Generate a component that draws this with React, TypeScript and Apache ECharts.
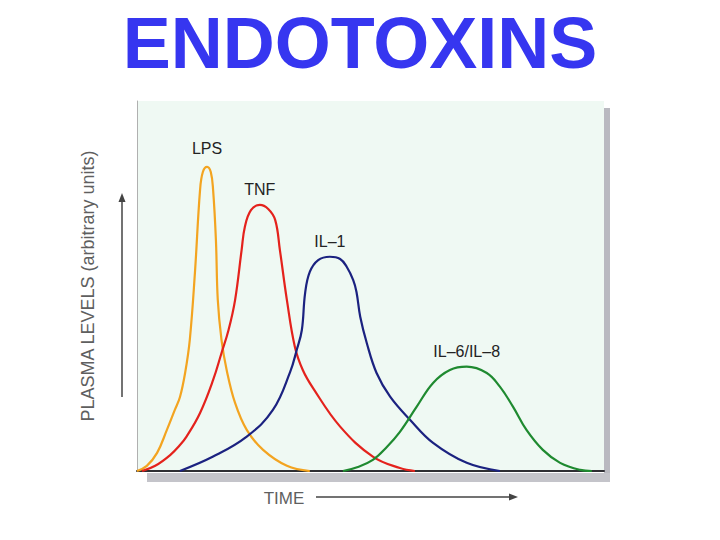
import React, { useEffect, useRef } from "react";
import * as echarts from "echarts";

const titleText = "ENDOTOXINS";
const yAxisTitle = "PLASMA LEVELS (arbitrary units)";
const xAxisTitle = "TIME";

const seriesNames = ["LPS", "TNF", "IL–1", "IL–6/IL–8"];
const seriesColors = ["#f3a420", "#e4221c", "#1b2280", "#1f8a30"];

const lps: number[][] = [
  [0, 0], [2.1, 1.4], [4.3, 4.9], [6.4, 11.1], [8.1, 16.5], [9.2, 20.0], [10.3, 26.5],
  [11.3, 35.4], [12.4, 53.5], [13.5, 75.9], [14.1, 80.8], [15.0, 82.2], [15.8, 80.8],
  [16.3, 75.9], [16.9, 62.4], [17.3, 46.2], [18.1, 35.4], [19.2, 27.3], [21.0, 18.4],
  [23.5, 11.1], [27.0, 5.7], [32.1, 1.4], [37.0, 0],
];
const tnf: number[][] = [
  [1.1, 0], [3.9, 1.4], [7.1, 4.3], [9.2, 7.0], [10.6, 9.3], [13.5, 15.7], [16.3, 24.6],
  [18.1, 31.9], [19.6, 38.1], [21.0, 46.2], [22.4, 59.7], [23.1, 66.0], [24.4, 70.5],
  [26.3, 71.9], [28.1, 70.8], [29.6, 67.8], [30.6, 59.7], [32.1, 46.2], [33.8, 33.6],
  [35.5, 27.3], [37.7, 22.4], [43.5, 12.0], [50.5, 3.9], [56.3, 0.8], [59.5, 0],
];
const il1: number[][] = [
  [9.2, 0], [16.3, 3.9], [23.5, 9.3], [29.1, 16.5], [32.8, 26.8], [34.2, 32.7], [35.3, 38.1],
  [36.0, 48.1], [37.0, 53.8], [38.8, 57.0], [41.3, 57.9], [43.5, 57.3], [44.9, 55.2],
  [46.3, 51.6], [47.0, 48.4], [47.8, 41.7], [49.2, 34.6], [51.3, 26.5], [54.2, 20.1],
  [58.5, 13.8], [63.4, 7.6], [70.6, 2.2], [77.7, 0],
];
const il6: number[][] = [
  [44.1, 0], [47.3, 1.1], [50.5, 3.0], [53.5, 6.5], [56.3, 10.6], [59.9, 17.4], [63.4, 23.8],
  [67.0, 27.3], [70.6, 28.2], [74.9, 26.5], [77.7, 22.8], [80.5, 17.4], [83.4, 11.1],
  [86.9, 5.7], [90.6, 2.2], [94.9, 0.3], [97.4, 0],
];
const seriesData = [lps, tnf, il1, il6];

export default function App() {
  const ref = useRef<HTMLDivElement>(null);
  useEffect(() => {
    if (!ref.current) return;
    const chart = echarts.init(ref.current, undefined, { renderer: "svg" });
    const labelFont = "Liberation Sans, Arial, sans-serif";
    chart.setOption({
      animation: false,
      backgroundColor: "#ffffff",
      title: {
        text: titleText,
        left: "center",
        top: 2,
        textStyle: {
          fontSize: 72,
          fontWeight: "bold",
          color: "#3636f0",
          fontFamily: labelFont,
        },
      },
      grid: {
        left: 137,
        right: 116,
        top: 101,
        bottom: 69,
        show: true,
        backgroundColor: "#eff9f3",
        borderWidth: 0,
      },
      xAxis: {
        type: "value",
        min: 0,
        max: 100,
        axisLine: { show: true, lineStyle: { color: "#2e2e33", width: 2 } },
        axisTick: { show: false },
        axisLabel: { show: false },
        splitLine: { show: false },
      },
      yAxis: {
        type: "value",
        min: 0,
        max: 100,
        name: yAxisTitle,
        nameLocation: "middle",
        nameRotate: 90,
        nameGap: 40,
        nameTextStyle: { fontSize: 18, color: "#5f5f5f", fontFamily: labelFont },
        axisLine: { show: true, lineStyle: { color: "#b0b0b0", width: 1 } },
        axisTick: { show: false },
        axisLabel: { show: false },
        splitLine: { show: false },
      },
      series: seriesData.map((d, i) => ({
        name: seriesNames[i],
        type: "line",
        data: d,
        smooth: 0.4,
        symbol: "none",
        lineStyle: { color: seriesColors[i], width: 2.2 },
        markPoint: {
          symbol: "circle",
          symbolSize: 0,
          data: [{ type: "max" }],
          label: {
            show: true,
            formatter: seriesNames[i],
            position: "top",
            distance: i === 0 ? 10 : 7,
            fontSize: 16,
            color: "#232323",
            fontFamily: labelFont,
          },
        },
      })),
      graphic: [
        { type: "rect", shape: { x: 604, y: 108, width: 6, height: 374 }, style: { fill: "#b9b9c0" }, silent: true },
        { type: "rect", shape: { x: 147, y: 473, width: 463, height: 9 }, style: { fill: "#c4c4ca" }, silent: true },
        { type: "line", shape: { x1: 122, y1: 397, x2: 122, y2: 200 }, style: { stroke: "#444", lineWidth: 1.5 } },
        { type: "polygon", shape: { points: [[122, 193], [118.5, 202], [125.5, 202]] }, style: { fill: "#444" } },
        {
          type: "text",
          x: 284,
          y: 498,
          style: {
            text: xAxisTitle,
            fontSize: 17,
            fill: "#5f5f5f",
            fontFamily: labelFont,
            textAlign: "center",
            textVerticalAlign: "middle",
          },
        },
        { type: "line", shape: { x1: 316, y1: 497, x2: 510, y2: 497 }, style: { stroke: "#444", lineWidth: 1.5 } },
        { type: "polygon", shape: { points: [[518, 497], [509, 493.5], [509, 500.5]] }, style: { fill: "#444" } },
      ],
    });
    return () => chart.dispose();
  }, []);
  return <div ref={ref} style={{ width: 720, height: 540, margin: -8 }} />;
}
